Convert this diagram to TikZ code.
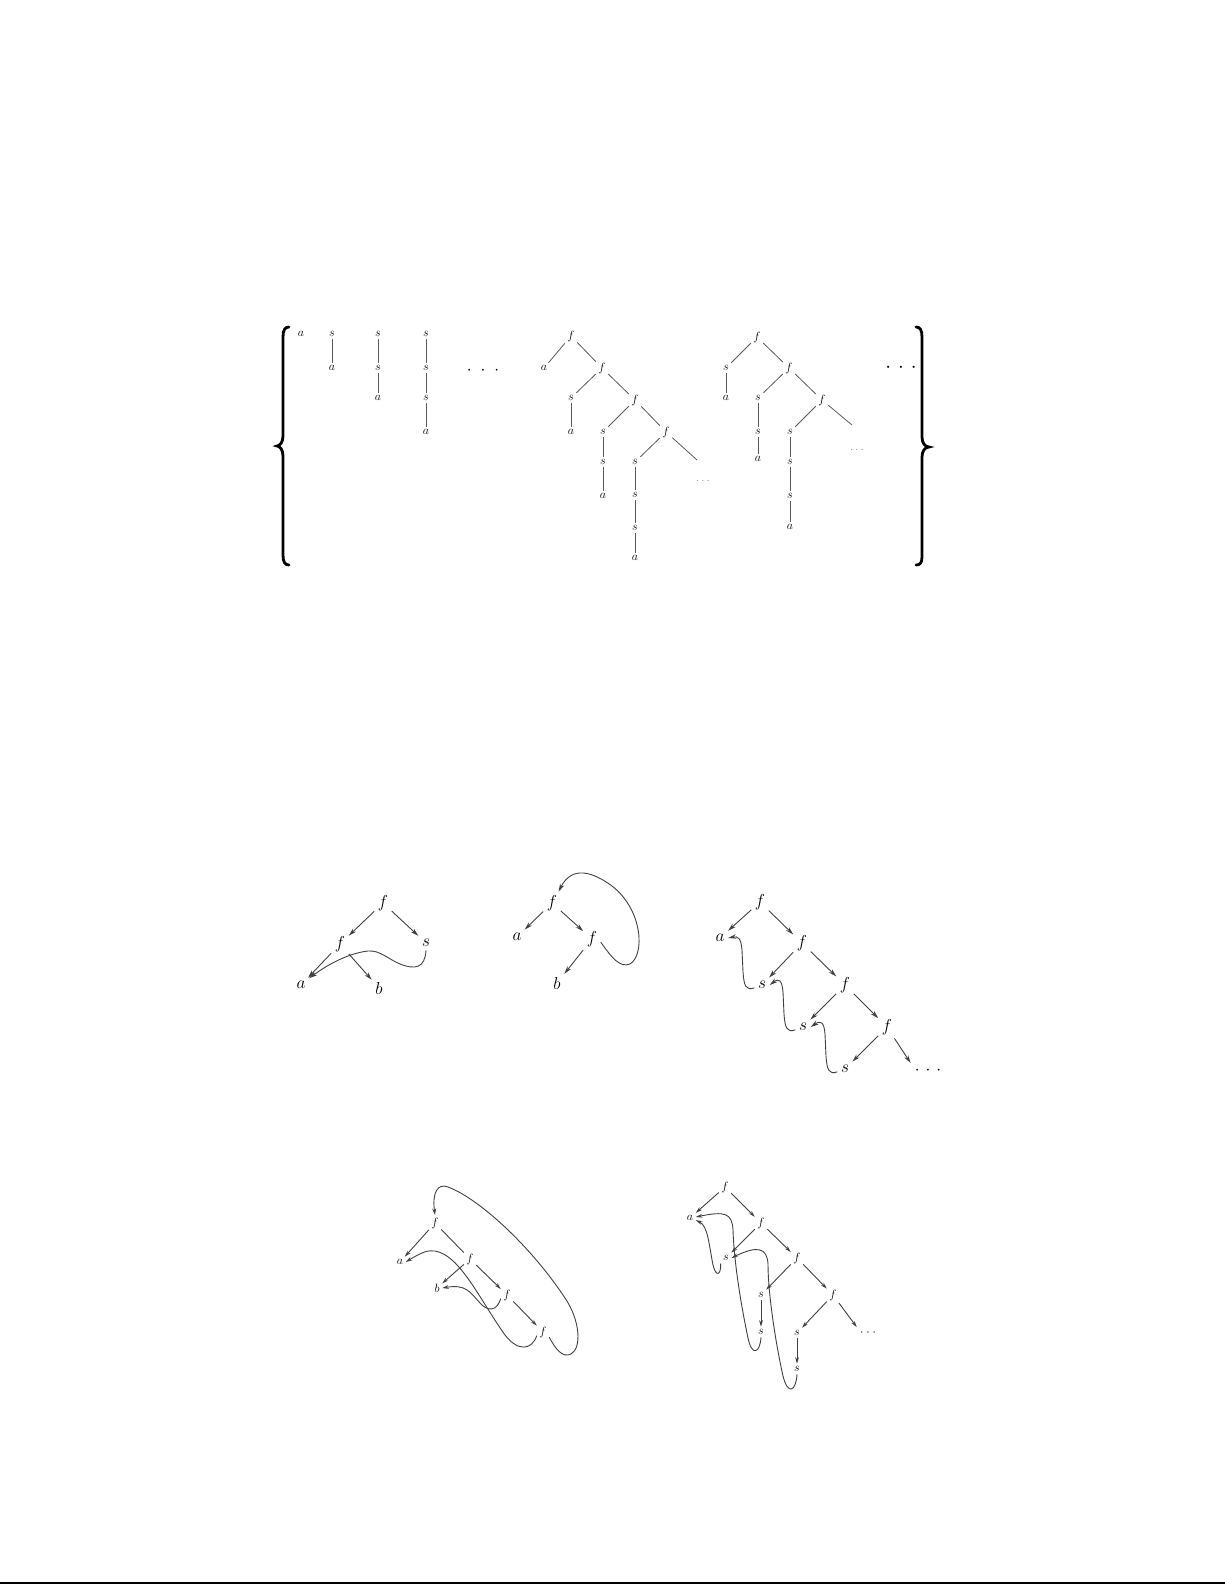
\documentclass[tikz,border=0pt]{standalone}
\usetikzlibrary{arrows.meta,calc}
\begin{document}
\begin{tikzpicture}[x=1pt,y=-1pt,
  tl/.style={font=\fontsize{13}{15}\selectfont, inner sep=2.5pt},
  tline/.style={draw=black!65, line width=0.8pt},
  bn/.style={font=\fontsize{17}{20}\selectfont, inner sep=3.5pt},
  sn/.style={font=\fontsize{13}{15}\selectfont, inner sep=2.5pt},
  crv/.style={draw=black!75, line width=0.9pt},
  arr/.style={crv, -{Stealth[length=8pt,width=4.5pt,inset=2.5pt]}},
  sarr/.style={crv, -{Stealth[length=6.5pt,width=3.8pt,inset=2pt]}},
  brace/.style={draw=black, line width=2.8pt, line cap=round},
]
\useasboundingbox (0,0) rectangle (1225,1585);

% ---------------- top: braces ----------------
\draw[brace] (289,327) .. controls (285,327) and (283,330) .. (283,337) -- (283,436)
  .. controls (283,442) and (280,446) .. (277,446) .. controls (280,446) and (283,450) .. (283,456)
  -- (283,555) .. controls (283,562) and (285,565) .. (289,565);
\draw[brace] (916,327) .. controls (920,327) and (922,330) .. (922,337) -- (922,437)
  .. controls (922,443) and (925,447) .. (929,447) .. controls (925,447) and (922,451) .. (922,457)
  -- (922,557) .. controls (922,563) and (920,565) .. (916,565);

% ---------------- top: chains ----------------
\node[tl] (c1a) at (301,334) {$a$};
\node[tl] (c2s) at (332,334) {$s$};
\node[tl] (c2a) at (332,368) {$a$};
\node[tl] (c3s) at (378,334) {$s$};
\node[tl] (c3s2) at (378,368) {$s$};
\node[tl] (c3a) at (378,398) {$a$};
\node[tl] (c4s) at (426,334) {$s$};
\node[tl] (c4s2) at (426,368) {$s$};
\node[tl] (c4s3) at (426,398) {$s$};
\node[tl] (c4a) at (426,432) {$a$};
\draw[tline] (c2s) -- (c2a);
\draw[tline] (c3s) -- (c3s2); \draw[tline] (c3s2) -- (c3a);
\draw[tline] (c4s) -- (c4s2); \draw[tline] (c4s2) -- (c4s3); \draw[tline] (c4s3) -- (c4a);
\node[font=\fontsize{16}{18}\selectfont, inner sep=0pt] (dotsA) at (483,371) {$\cdot$\hspace{9pt}$\cdot$\hspace{9pt}$\cdot$};

% ---------------- top: tree 1 ----------------
\node[tl] (T1f1) at (571,336) {$f$};
\node[tl] (T1a) at (544,368) {$a$};
\node[tl] (T1f2) at (602,368) {$f$};
\node[tl] (T1s1) at (571,398) {$s$};
\node[tl] (T1a1) at (571,432) {$a$};
\node[tl] (T1f3) at (635,400) {$f$};
\node[tl] (T1s2) at (603,432) {$s$};
\node[tl] (T1s2b) at (603,462) {$s$};
\node[tl] (T1a2) at (603,496) {$a$};
\node[tl] (T1f4) at (666,432) {$f$};
\node[tl] (T1s3) at (635,462) {$s$};
\node[tl] (T1s3b) at (635,495) {$s$};
\node[tl] (T1s3c) at (635,528) {$s$};
\node[tl] (T1a3) at (635,558) {$a$};
\coordinate (T1e) at (697,460);
\node[font=\fontsize{10}{12}\selectfont, text=black!55, inner sep=0pt] (T1dots) at (703,481) {$\cdot$\hspace{2.5pt}$\cdot$\hspace{2.5pt}$\cdot$};
\draw[tline] (T1f1) -- (T1a);
\draw[tline] (T1f1) -- (T1f2);
\draw[tline] (T1f2) -- (T1s1);
\draw[tline] (T1s1) -- (T1a1);
\draw[tline] (T1f2) -- (T1f3);
\draw[tline] (T1f3) -- (T1s2);
\draw[tline] (T1s2) -- (T1s2b);
\draw[tline] (T1s2b) -- (T1a2);
\draw[tline] (T1f3) -- (T1f4);
\draw[tline] (T1f4) -- (T1s3);
\draw[tline] (T1s3) -- (T1s3b);
\draw[tline] (T1s3b) -- (T1s3c);
\draw[tline] (T1s3c) -- (T1a3);
\draw[tline] (T1f4) -- (T1e);

% ---------------- top: tree 2 ----------------
\node[tl] (T2f1) at (757,337) {$f$};
\node[tl] (T2s) at (726,368) {$s$};
\node[tl] (T2a) at (726,398) {$a$};
\node[tl] (T2f2) at (789,368) {$f$};
\node[tl] (T2s1) at (758,398) {$s$};
\node[tl] (T2s1b) at (758,432) {$s$};
\node[tl] (T2a1) at (758,459) {$a$};
\node[tl] (T2f3) at (822,400) {$f$};
\node[tl] (T2s2) at (790,432) {$s$};
\node[tl] (T2s2b) at (790,462) {$s$};
\node[tl] (T2s2c) at (790,496) {$s$};
\node[tl] (T2a2) at (790,527) {$a$};
\coordinate (T2e) at (852,425);
\node[font=\fontsize{10}{12}\selectfont, text=black!55, inner sep=0pt] (T2dots) at (857,450) {$\cdot$\hspace{2.5pt}$\cdot$\hspace{2.5pt}$\cdot$};
\draw[tline] (T2f1) -- (T2s);
\draw[tline] (T2s) -- (T2a);
\draw[tline] (T2f1) -- (T2f2);
\draw[tline] (T2f2) -- (T2s1);
\draw[tline] (T2s1) -- (T2s1b);
\draw[tline] (T2s1b) -- (T2a1);
\draw[tline] (T2f2) -- (T2f3);
\draw[tline] (T2f3) -- (T2s2);
\draw[tline] (T2s2) -- (T2s2b);
\draw[tline] (T2s2b) -- (T2s2c);
\draw[tline] (T2s2c) -- (T2a2);
\draw[tline] (T2f3) -- (T2e);
\node[font=\fontsize{20}{22}\selectfont, inner sep=0pt] (dotsB) at (901,368) {$\cdot$\hspace{7pt}$\cdot$\hspace{7pt}$\cdot$};

% ---------------- graph 1 ----------------
\node[bn] (G1f) at (383,903) {$f$};
\node[bn] (G1f2) at (340,944) {$f$};
\node[bn] (G1s) at (426,943) {$s$};
\node[bn] (G1a) at (301,985) {$a$};
\node[bn] (G1b) at (379,988) {$b$};
\draw[arr] (G1f) -- (G1f2);
\draw[arr] (G1f) -- (G1s);
\draw[arr] (G1f2) -- (G1a);
\draw[arr] (G1f2) -- (G1b);
\draw[arr] (G1s.south) .. controls (425,968) and (415,970) .. (400,964)
  .. controls (388,959) and (380,950) .. (368,951)
  .. controls (350,953) and (330,963) .. (G1a.40);

% ---------------- graph 2 ----------------
\node[bn] (G2f) at (552,903) {$f$};
\node[bn] (G2a) at (517,937) {$a$};
\node[bn] (G2f2) at (592,939) {$f$};
\node[bn] (G2b) at (557,983) {$b$};
\draw[arr] (G2f) -- (G2a);
\draw[arr] (G2f) -- (G2f2);
\draw[arr] (G2f2) -- (G2b);
\draw[arr] (G2f2.-20) .. controls (612,958) and (620,968) .. (630,964)
  .. controls (645,955) and (643,910) .. (612,886)
  .. controls (593,872) and (572,865) .. (G2f.60);

% ---------------- graph 3 ----------------
\node[bn] (G3f) at (760,902) {$f$};
\node[bn] (G3a) at (720,938) {$a$};
\node[bn] (G3f2) at (802,943) {$f$};
\node[bn] (G3s1) at (762,985) {$s$};
\node[bn] (G3f3) at (845,985) {$f$};
\node[bn] (G3s2) at (803,1027) {$s$};
\node[bn] (G3f4) at (887,1027) {$f$};
\node[bn] (G3s3) at (845,1069) {$s$};
\node[font=\fontsize{16}{18}\selectfont, inner sep=4pt] (G3dots) at (928,1071) {$\cdot$\hspace{6pt}$\cdot$\hspace{6pt}$\cdot$};
\draw[arr] (G3f) -- (G3a);
\draw[arr] (G3f) -- (G3f2);
\draw[arr] (G3f2) -- (G3s1);
\draw[arr] (G3f2) -- (G3f3);
\draw[arr] (G3f3) -- (G3s2);
\draw[arr] (G3f3) -- (G3f4);
\draw[arr] (G3f4) -- (G3s3);
\draw[arr] (G3f4) -- (G3dots.north west);
\draw[arr] (G3s1.-160) .. controls (746,991) and (744,986) .. (743,972) -- (742,950)
  .. controls (741,938) and (738,936) .. (G3a.east);
\draw[arr] (G3s2.-160) .. controls (787,1033) and (785,1028) .. (784,1014) -- (783,992)
  .. controls (782,980) and (779,978) .. (G3s1.east);
\draw[arr] (G3s3.-160) .. controls (829,1075) and (827,1070) .. (826,1056) -- (825,1034)
  .. controls (824,1022) and (821,1020) .. (G3s2.east);

% ---------------- graph 4 ----------------
\node[sn] (G4f) at (435,1223) {$f$};
\node[sn] (G4a) at (400,1262) {$a$};
\node[sn] (G4f2) at (470,1259) {$f$};
\node[sn] (G4b) at (437,1288) {$b$};
\node[sn] (G4f3) at (507,1295) {$f$};
\node[sn] (G4f4) at (543,1332) {$f$};
\draw[sarr] (G4f) -- (G4a);
\draw[crv] (G4f) -- (G4f2);
\draw[sarr] (G4f2) -- (G4b);
\draw[sarr] (G4f2) -- (G4f3);
\draw[sarr] (G4f3) -- (G4f4);
\draw[sarr] (G4f4.-150) .. controls (532,1350) and (518,1352) .. (505,1335)
  .. controls (480,1300) and (460,1255) .. (435,1251)
  .. controls (428,1250) and (422,1252) .. (G4a.east);
\draw[sarr] (G4f3.-150) .. controls (497,1311) and (488,1312) .. (480,1303)
  .. controls (470,1292) and (466,1284) .. (G4b.east);
\draw[sarr] (G4f4.-40) .. controls (556,1350) and (563,1358) .. (571,1354)
  .. controls (582,1348) and (580,1320) .. (565,1298)
  .. controls (530,1245) and (478,1198) .. (448,1187)
  .. controls (438,1183) and (432,1192) .. (G4f.north);

% ---------------- graph 5 ----------------
\node[sn] (G5f) at (725,1187) {$f$};
\node[sn] (G5a) at (690,1218) {$a$};
\node[sn] (G5f2) at (761,1223) {$f$};
\node[sn] (G5s1) at (726,1258) {$s$};
\node[sn] (G5f3) at (797,1258) {$f$};
\node[sn] (G5s2) at (761,1295) {$s$};
\node[sn] (G5s2b) at (761,1332) {$s$};
\node[sn] (G5f4) at (833,1295) {$f$};
\node[sn] (G5s3) at (797,1333) {$s$};
\node[sn] (G5s3b) at (797,1369) {$s$};
\node[font=\fontsize{12}{14}\selectfont, inner sep=3pt] (G5dots) at (868,1333) {$\cdot$\hspace{3pt}$\cdot$\hspace{3pt}$\cdot$};
\draw[sarr] (G5f) -- (G5a);
\draw[sarr] (G5f) -- (G5f2);
\draw[sarr] (G5f2) -- (G5s1);
\draw[sarr] (G5f2) -- (G5f3);
\draw[sarr] (G5f3) -- (G5s2);
\draw[sarr] (G5f3) -- (G5f4);
\draw[sarr] (G5s2) -- (G5s2b);
\draw[sarr] (G5f4) -- (G5s3);
\draw[sarr] (G5f4) -- (G5dots.north west);
\draw[sarr] (G5s3) -- (G5s3b);
\draw[sarr] (G5s1.-135) .. controls (721,1276) and (716,1277) .. (713,1265)
  .. controls (709,1245) and (708,1226) .. (G5a.-20);
\draw[sarr] (G5s2b.south) .. controls (760,1353) and (752,1357) .. (748,1338)
  .. controls (740,1300) and (734,1260) .. (733,1230)
  .. controls (732,1213) and (725,1211) .. (G5a.10);
\draw[sarr] (G5s3b.south) .. controls (796,1391) and (788,1396) .. (783,1376)
  .. controls (775,1340) and (768,1292) .. (768,1264)
  .. controls (767,1248) and (758,1245) .. (G5s1.east);

% ---------------- page rule ----------------
\coordinate (ruleL) at (0,1583);
\coordinate (ruleR) at (1225,1583);
\draw[line width=2pt] (ruleL) -- (ruleR);
\end{tikzpicture}
\end{document}
